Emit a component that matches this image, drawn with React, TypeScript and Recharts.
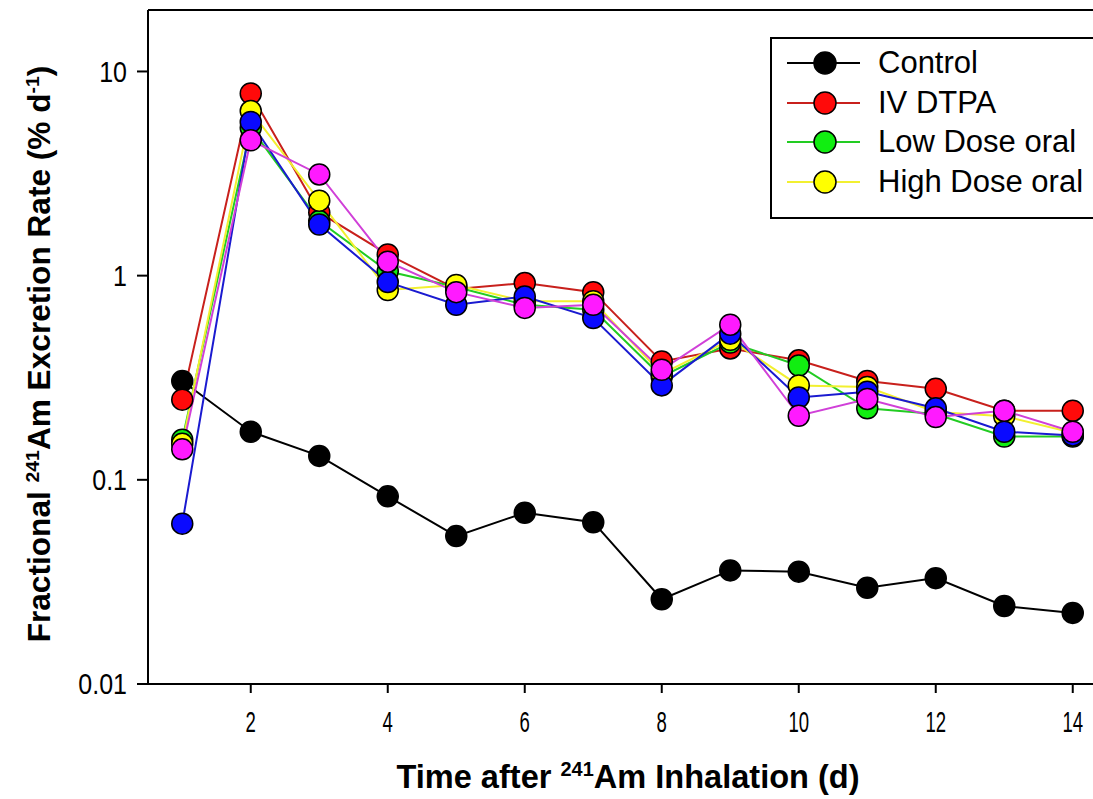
import React from "react";
import { LineChart, Line, XAxis, YAxis, ReferenceLine } from "recharts";

const days = [1, 2, 3, 4, 5, 6, 7, 8, 9, 10, 11, 12, 13, 14];
const control = [0.305, 0.172, 0.131, 0.083, 0.053, 0.069, 0.062, 0.026, 0.036, 0.0355, 0.0296, 0.033, 0.0241, 0.0223];
const ivDtpa = [0.247, 7.8, 2.04, 1.27, 0.86, 0.92, 0.83, 0.38, 0.44, 0.385, 0.305, 0.279, 0.218, 0.218];
const lowDose = [0.157, 5.3, 1.85, 1.05, 0.88, 0.72, 0.68, 0.32, 0.47, 0.363, 0.224, 0.21, 0.163, 0.163];
const highDose = [0.15, 6.4, 2.33, 0.85, 0.9, 0.75, 0.75, 0.33, 0.485, 0.29, 0.285, 0.215, 0.205, 0.17];
const seriesBlue = [0.061, 5.66, 1.78, 0.93, 0.72, 0.79, 0.62, 0.29, 0.52, 0.253, 0.27, 0.224, 0.172, 0.165];
const seriesMagenta = [0.141, 4.6, 3.13, 1.17, 0.83, 0.695, 0.72, 0.346, 0.575, 0.206, 0.249, 0.203, 0.218, 0.172];

const xTicks = [2, 4, 6, 8, 10, 12, 14];
const yTicks = [0.01, 0.1, 1, 10];
const yTickLabels = ["0.01", "0.1", "1", "10"];

const data = days.map((d, i) => ({
  day: d,
  control: control[i],
  iv: ivDtpa[i],
  low: lowDose[i],
  high: highDose[i],
  blue: seriesBlue[i],
  magenta: seriesMagenta[i],
}));

const FONT = '"Liberation Sans", Arial, sans-serif';

const series = [
  { key: "control", name: "Control", line: "#000000", fill: "#000000" },
  { key: "iv", name: "IV DTPA", line: "#c8201c", fill: "#ff0a0a" },
  { key: "low", name: "Low Dose oral", line: "#22cc22", fill: "#11ee11" },
  { key: "high", name: "High Dose oral", line: "#f2f030", fill: "#ffff00" },
  { key: "blue", name: "Group 5", line: "#1a1ad0", fill: "#0a0aff" },
  { key: "magenta", name: "Group 6", line: "#d040d8", fill: "#ff1aff" },
];

const legendItems = series.slice(0, 4);

const XTick = (props: any) => {
  const { x, y, payload } = props;
  return (
    <text
      transform={`translate(${x},${y}) scale(0.64,1)`}
      textAnchor="middle"
      dy="0.71em"
      fontSize={29}
      fontFamily={FONT}
      fill="#000"
    >
      {payload.value}
    </text>
  );
};

const YTick = (props: any) => {
  const { x, y, payload } = props;
  const idx = yTicks.indexOf(payload.value);
  return (
    <text
      transform={`translate(${x},${y}) scale(1,1.15)`}
      textAnchor="end"
      dy="0.36em"
      fontSize={25}
      fontFamily={FONT}
      fill="#000"
    >
      {idx >= 0 ? yTickLabels[idx] : String(payload.value)}
    </text>
  );
};

const supStyle: React.CSSProperties = { fontSize: 19, verticalAlign: "11px", lineHeight: 0 };

export default function App() {
  return (
    <div
      style={{
        position: "absolute",
        left: 0,
        top: 0,
        width: 1093,
        height: 799,
        overflow: "hidden",
        background: "#fff",
        fontFamily: FONT,
      }}
    >
      <LineChart
        width={1107}
        height={799}
        data={data}
        margin={{ top: 10, right: 0, left: 0, bottom: 0 }}
      >
        <XAxis
          dataKey="day"
          type="number"
          domain={[0.5, 14.5]}
          ticks={xTicks}
          height={115}
          tickSize={9}
          tickMargin={18}
          axisLine={{ stroke: "#000", strokeWidth: 2 }}
          tickLine={{ stroke: "#000", strokeWidth: 2 }}
          tick={<XTick />}
        />
        <YAxis
          scale="log"
          domain={[0.01, 20]}
          ticks={yTicks}
          allowDataOverflow
          width={148}
          tickSize={11}
          tickMargin={10}
          axisLine={{ stroke: "#000", strokeWidth: 2 }}
          tickLine={{ stroke: "#000", strokeWidth: 2 }}
          tick={<YTick />}
        />
        <ReferenceLine y={20} stroke="#000" strokeWidth={2} ifOverflow="extendDomain" />
        {series.map((s) => (
          <Line
            key={s.key}
            dataKey={s.key}
            name={s.name}
            type="linear"
            stroke={s.line}
            strokeWidth={2}
            isAnimationActive={false}
            dot={{ r: 10.5, fill: s.fill, stroke: "#000", strokeWidth: 1.5 }}
            activeDot={false}
          />
        ))}
      </LineChart>

      {/* Legend */}
      <div
        style={{
          position: "absolute",
          left: 770,
          top: 37,
          width: 340,
          height: 182,
          border: "2px solid #000",
          boxSizing: "border-box",
          background: "#fff",
        }}
      >
        {legendItems.map((s, i) => (
          <div
            key={s.key}
            style={{
              position: "absolute",
              left: 0,
              top: 63 - 20 - 39 + i * 39.6,
              height: 40,
              width: 340,
            }}
          >
            <svg width={100} height={40} style={{ position: "absolute", left: 0, top: 0 }}>
              <line x1={15} y1={20} x2={88} y2={20} stroke={s.line} strokeWidth={2} />
              <circle cx={53} cy={20} r={11} fill={s.fill} stroke="#000" strokeWidth={1.5} />
            </svg>
            <div
              style={{
                position: "absolute",
                left: 106,
                top: 0,
                height: 40,
                lineHeight: "40px",
                fontSize: 31,
                color: "#000",
                whiteSpace: "nowrap",
              }}
            >
              {s.name}
            </div>
          </div>
        ))}
      </div>

      {/* Y axis title */}
      <div
        style={{
          position: "absolute",
          left: 40 - 400,
          top: 354 - 20,
          width: 800,
          height: 40,
          lineHeight: "40px",
          textAlign: "center",
          transform: "rotate(-90deg) scale(1.02, 1)",
          fontWeight: "bold",
          fontSize: 31,
          color: "#000",
          whiteSpace: "nowrap",
        }}
      >
        Fractional <sup style={supStyle}>241</sup>Am Excretion Rate (% d<sup style={supStyle}>-1</sup>)
      </div>

      {/* X axis title */}
      <div
        style={{
          position: "absolute",
          left: 628 - 400,
          top: 777 - 20,
          width: 800,
          height: 40,
          lineHeight: "40px",
          textAlign: "center",
          fontWeight: "bold",
          fontSize: 31,
          color: "#000",
          whiteSpace: "nowrap",
          transform: "scale(1.05, 1.1)",
        }}
      >
        Time after <sup style={supStyle}>241</sup>Am Inhalation (d)
      </div>
    </div>
  );
}
